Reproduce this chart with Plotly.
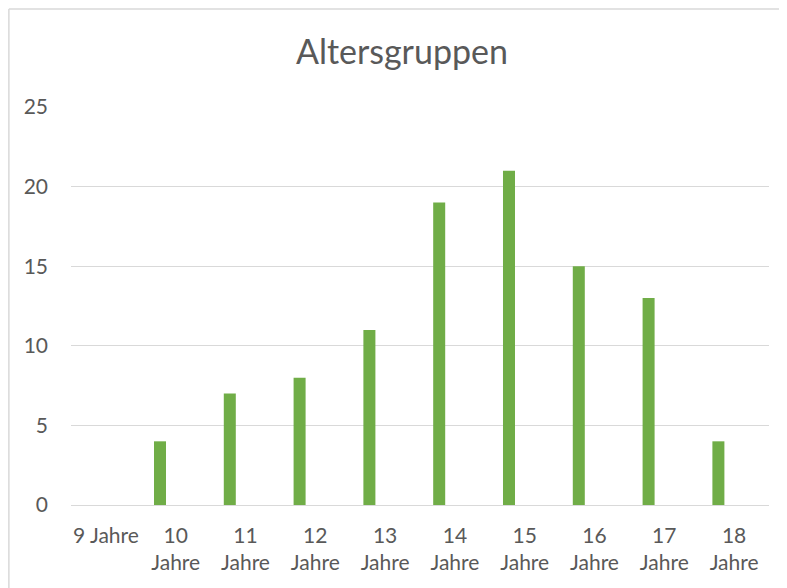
import plotly.graph_objects as go

# Altersgruppen - Anzahl pro Alter
categories = ["9 Jahre", "10 Jahre", "11 Jahre", "12 Jahre", "13 Jahre",
              "14 Jahre", "15 Jahre", "16 Jahre", "17 Jahre", "18 Jahre"]
tick_labels = ["9 Jahre", "10<br>Jahre", "11<br>Jahre", "12<br>Jahre", "13<br>Jahre",
               "14<br>Jahre", "15<br>Jahre", "16<br>Jahre", "17<br>Jahre", "18<br>Jahre"]
counts = [0, 4, 7, 8, 11, 19, 21, 15, 13, 4]
y_ticks = [0, 5, 10, 15, 20, 25]

grey = "#595959"
font_family = "Lato, 'Open Sans', sans-serif"

fig = go.Figure()

# Excel-style clustered column: bar sits left of the category centre
fig.add_trace(go.Bar(
    x=categories,
    y=counts,
    marker=dict(color="#70AD47", line=dict(width=0)),
    width=0.172,
    offset=-0.311,
    hoverinfo="x+y",
))

# chart border: only the left and top edges fall inside the picture
border = dict(color="#D9D9D9", width=1.5)
fig.add_shape(type="line", xref="paper", yref="paper",
              x0=-0.089, y0=1.246, x1=1.6, y1=1.246, line=border, layer="below")
fig.add_shape(type="line", xref="paper", yref="paper",
              x0=-0.089, y0=-0.5, x1=-0.089, y1=1.246, line=border, layer="below")

# page body has an 8px margin, so the figure is a bit smaller than the window
fig.update_layout(
    width=779, height=580,
    margin=dict(l=63, r=18, t=99, b=83),
    paper_bgcolor="white",
    plot_bgcolor="white",
    showlegend=False,
    font=dict(family=font_family, color=grey),
    title=dict(
        text="Altersgruppen",
        x=394 / 779, xref="container", xanchor="center",
        y=1 - 44 / 580, yref="container", yanchor="middle",
        font=dict(size=34, color=grey, family=font_family),
    ),
    xaxis=dict(
        type="category",
        tickmode="array",
        tickvals=categories,
        ticktext=tick_labels,
        showgrid=False,
        zeroline=False,
        showline=False,
        ticks="",
        tickfont=dict(size=21, color=grey),
        ticklabelstandoff=16,
        automargin=False,
        fixedrange=True,
    ),
    yaxis=dict(
        range=[0, 25],
        tickvals=y_ticks,
        showgrid=True,
        gridcolor="#D9D9D9",
        gridwidth=1.3,
        zeroline=True,
        zerolinecolor="#D9D9D9",
        zerolinewidth=1.3,
        showline=False,
        ticks="",
        tickfont=dict(size=21, color=grey),
        ticklabelstandoff=22,
        automargin=False,
        fixedrange=True,
    ),
)

fig.write_html("out.html")
